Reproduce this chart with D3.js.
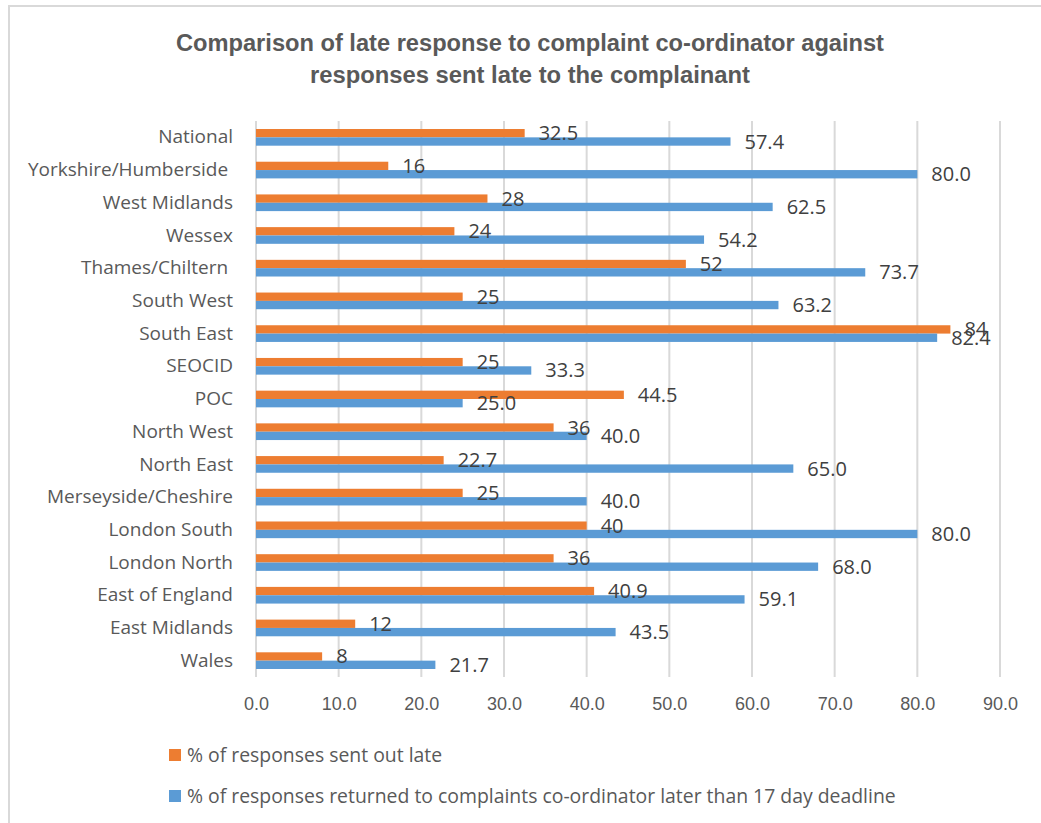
<!DOCTYPE html>
<html>
<head>
<meta charset="utf-8">
<script src="https://cdn.jsdelivr.net/npm/d3@7"></script>
<style>
  body { margin: 0; background: #fff; }
  text { white-space: pre; }
</style>
</head>
<body>
<svg id="chart" width="1041" height="823"></svg>
<script>
// categories top to bottom, as in the picture
const regions = ["National", "Yorkshire/Humberside ", "West Midlands", "Wessex", "Thames/Chiltern ",
  "South West", "South East", "SEOCID", "POC", "North West", "North East", "Merseyside/Cheshire",
  "London South", "London North", "East of England", "East Midlands", "Wales"]
const sentLate = [32.5, 16, 28, 24, 52, 25, 84, 25, 44.5, 36, 22.7, 25, 40, 36, 40.9, 12, 8]
const returnedLate = [57.4, 80.0, 62.5, 54.2, 73.7, 63.2, 82.4, 33.3, 25.0, 40.0, 65.0, 40.0, 80.0, 68.0, 59.1, 43.5, 21.7]
const xTicks = [0, 10, 20, 30, 40, 50, 60, 70, 80, 90]
const seriesNames = ["% of responses sent out late",
  "% of responses returned to complaints co-ordinator later than 17 day deadline"]
const titleLines = ["Comparison of late response to complaint co-ordinator against",
  "responses sent late to the complainant"]

const orange = "#ED7D31"
const blue = "#5B9BD5"
const textCol = "#595959"
const gridCol = "#D9D9D9"
const labelFont = "'Open Sans', 'Noto Sans', sans-serif"
const narrowFont = "'Liberation Sans Narrow', 'Liberation Sans', sans-serif"

const svg = d3.select("#chart")

// frame of the chart area (only top and left edges show)
svg.append("path")
  .attr("d", "M9,823 V6 H1041")
  .attr("fill", "none")
  .attr("stroke", gridCol)
  .attr("stroke-width", 2)

const x = d3.scaleLinear().domain([0, 90]).range([256, 1000])
const y = d3.scaleBand().domain(regions).range([121, 677]).paddingInner(0.49).paddingOuter(0.245)
const sub = d3.scaleBand().domain([0, 1]).range([0, y.bandwidth()])

// title, squeezed to the width of the narrow original face
const titleWidths = [708, 440]
svg.append("g").selectAll("text")
  .data(titleLines)
  .join("text")
    .attr("x", 530)
    .attr("y", (d, i) => 51 + i * 32)
    .attr("text-anchor", "middle")
    .attr("font-family", narrowFont)
    .attr("font-weight", "bold")
    .attr("font-size", 23)
    .attr("fill", textCol)
    .attr("textLength", (d, i) => titleWidths[i])
    .attr("lengthAdjust", "spacingAndGlyphs")
    .text(d => d)

// vertical gridlines
svg.append("g").selectAll("line")
  .data(xTicks)
  .join("line")
    .attr("x1", d => x(d))
    .attr("x2", d => x(d))
    .attr("y1", 121)
    .attr("y2", 677)
    .attr("stroke", gridCol)
    .attr("stroke-width", 2)

// x axis tick labels
const xAxis = svg.append("g")
  .attr("transform", "translate(0,677)")
  .call(d3.axisBottom(x).tickValues(xTicks).tickFormat(d3.format(".1f")).tickSize(0).tickPadding(20))
xAxis.select(".domain").remove()
xAxis.selectAll("text")
  .attr("font-family", narrowFont)
  .attr("font-size", 18)
  .attr("fill", textCol)

// category labels
const yAxis = svg.append("g")
  .attr("transform", "translate(256,0)")
  .call(d3.axisLeft(y).tickSize(0).tickPadding(23))
yAxis.select(".domain").remove()
yAxis.selectAll("text")
  .attr("font-family", labelFont)
  .attr("font-size", 19)
  .attr("fill", textCol)

const rows = regions.map((r, i) => ({ region: r, vals: [sentLate[i], returnedLate[i]] }))
const fmt = [d => String(d), d3.format(".1f")]
const colors = [orange, blue]

const g = svg.append("g").selectAll("g")
  .data(rows)
  .join("g")
    .attr("transform", d => `translate(0,${y(d.region)})`)

g.selectAll("rect")
  .data(d => d.vals.map((v, k) => ({ v, k })))
  .join("rect")
    .attr("x", x(0))
    .attr("y", d => sub(d.k))
    .attr("width", d => x(d.v) - x(0))
    .attr("height", sub.bandwidth())
    .attr("fill", d => colors[d.k])

g.selectAll("text")
  .data(d => d.vals.map((v, k) => ({ v, k })))
  .join("text")
    .attr("x", d => x(d.v) + 14)
    .attr("y", d => sub(d.k) + sub.bandwidth() / 2)
    .attr("dy", "0.35em")
    .attr("font-family", labelFont)
    .attr("font-size", 20)
    .attr("fill", "#404040")
    .text(d => fmt[d.k](d.v))

// legend
const leg = svg.append("g").selectAll("g")
  .data(seriesNames)
  .join("g")
    .attr("transform", (d, i) => `translate(169,${755 + i * 41})`)
leg.append("rect")
  .attr("x", 0)
  .attr("y", -6)
  .attr("width", 12)
  .attr("height", 12)
  .attr("fill", (d, i) => colors[i])
leg.append("text")
  .attr("x", 18)
  .attr("dy", "0.35em")
  .attr("font-family", labelFont)
  .attr("font-size", 19.4)
  .attr("fill", textCol)
  .text(d => d)
</script>
</body>
</html>
